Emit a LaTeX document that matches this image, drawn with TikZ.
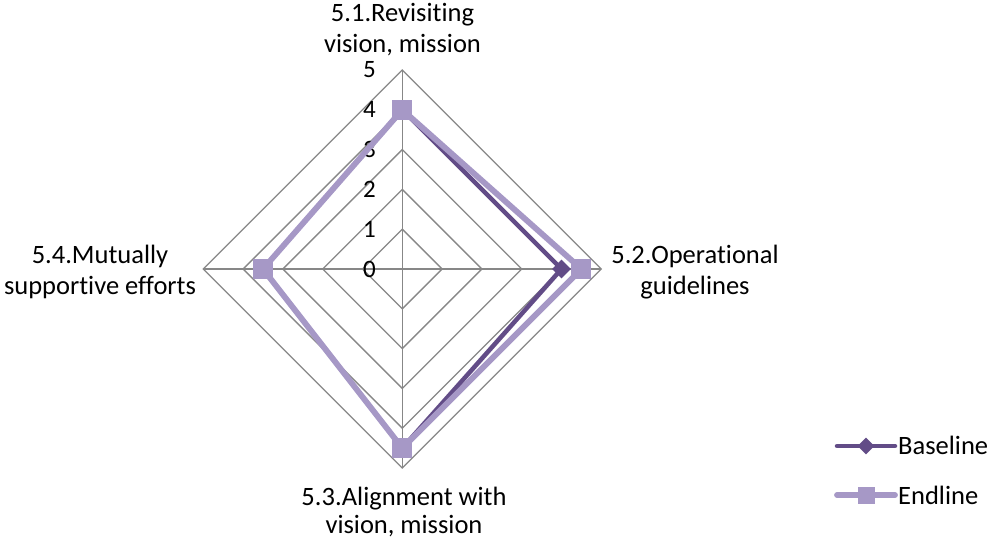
\documentclass[tikz,border=0pt]{standalone}
\usepackage{fontspec}
\setmainfont{Carlito}[Ligatures=NoCommon]
\usetikzlibrary{shapes.geometric}
\definecolor{basec}{HTML}{624C87}
\definecolor{endc}{HTML}{A698C6}
\definecolor{gridc}{HTML}{878787}
\begin{document}
\begin{tikzpicture}[x=1pt,y=-1pt,
  gridline/.style={draw=gridc, line width=1.3pt},
  bline/.style={draw=basec, line width=4.5pt, line join=round, line cap=round},
  eline/.style={draw=endc, line width=5.8pt, line join=round, line cap=round},
  bmark/.style={diamond, fill=basec, inner sep=0pt, minimum width=19pt, minimum height=19pt},
  emark/.style={rectangle, fill=endc, inner sep=0pt, minimum size=20pt},
  lbl/.style={font=\fontsize{26.5}{31}\selectfont, inner sep=0pt, text=black},
  tick/.style={font=\fontsize{25}{28}\selectfont, inner sep=0pt, anchor=east, text=black}]
\useasboundingbox (0,0) rectangle (988,540);
\def\cx{402.3}\def\cy{269}\def\u{39.8}
% grid
\foreach \r in {1,...,5}
  \draw[gridline] ({\cx},{\cy-\r*\u}) -- ({\cx+\r*\u},{\cy}) -- ({\cx},{\cy+\r*\u}) -- ({\cx-\r*\u},{\cy}) -- cycle;
\draw[gridline] ({\cx},{\cy-5*\u}) -- ({\cx},{\cy+5*\u});
\draw[gridline] ({\cx-5*\u},{\cy}) -- ({\cx+5*\u},{\cy});
% ticks
\foreach \v in {0,...,5}
  \node[tick] (tk\v) at (376,{\cy-\v*\u}) {\v};
% baseline
\coordinate (pb1) at ({\cx},{\cy-4*\u});
\coordinate (pb2) at ({\cx+4*\u},{\cy});
\coordinate (pb3) at ({\cx},{\cy+4.5*\u});
\coordinate (pb4) at ({\cx-3.5*\u},{\cy});
\draw[bline] (pb1) -- (pb2) -- (pb3) -- (pb4) -- cycle;
\foreach \i in {1,...,4} \node[bmark] (b\i) at (pb\i) {};
% endline
\coordinate (pe1) at ({\cx},{\cy-4*\u});
\coordinate (pe2) at ({\cx+4.5*\u},{\cy});
\coordinate (pe3) at ({\cx},{\cy+4.5*\u});
\coordinate (pe4) at ({\cx-3.5*\u},{\cy});
\draw[eline] (pe1) -- (pe2) -- (pe3) -- (pe4) -- cycle;
\foreach \i in {1,...,4} \node[emark] (e\i) at (pe\i) {};
% category labels
\node[lbl, anchor=base] (c1a) at (402.5,22) {5.1.Revisiting};
\node[lbl, anchor=base] (c1b) at (402.5,53) {vision, mission};
\node[lbl, anchor=base] (c2a) at (695,263.5) {5.2.Operational};
\node[lbl, anchor=base] (c2b) at (695,294) {guidelines};
\node[lbl, anchor=base] (c3a) at (404,505) {5.3.Alignment with};
\node[lbl, anchor=base] (c3b) at (404,533) {vision, mission};
\node[lbl, anchor=base] (c4a) at (100,263.5) {5.4.Mutually};
\node[lbl, anchor=base] (c4b) at (100,294) {supportive efforts};
% legend
\coordinate (lb1) at (837,446);
\coordinate (lb2) at (895,446);
\draw[bline] (lb1) -- (lb2);
\node[bmark, minimum width=17pt, minimum height=17pt] (lbm) at (866,446) {};
\node[lbl, anchor=base west] (lbt) at (898,454) {Baseline};
\coordinate (le1) at (837,495);
\coordinate (le2) at (895,495);
\draw[eline] (le1) -- (le2);
\node[emark, minimum size=17pt] (lem) at (866,495) {};
\node[lbl, anchor=base west] (let) at (898,504) {Endline};
\end{tikzpicture}
\end{document}
